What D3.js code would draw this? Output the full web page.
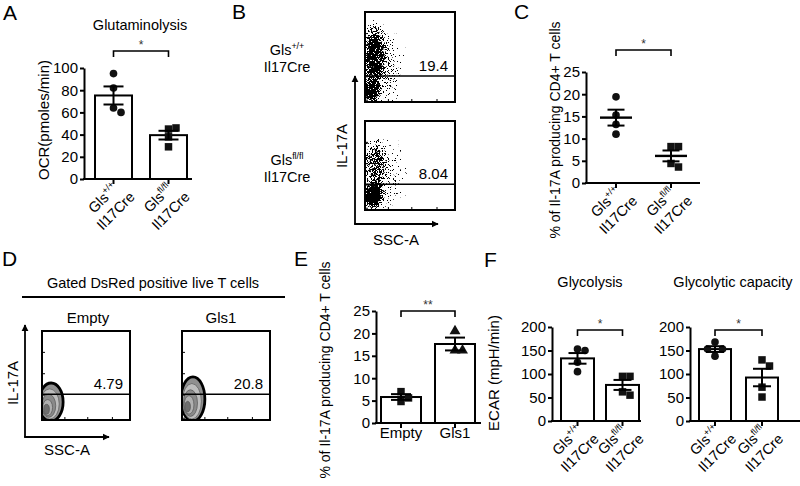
<!DOCTYPE html>
<html>
<head>
<meta charset="utf-8">
<script src="https://cdn.jsdelivr.net/npm/d3@7"></script>
<style>
  body { margin: 0; background: #fff; }
  svg { display: block; }
</style>
</head>
<body>
<script>
// ---- values ----
const genotypeSup = ["+/+", "fl/fl"];
const ocrPoints = [[95, 82, 64, 60], [45, 46, 38, 29]];          // A
const il17Points = [[19.4, 15.3, 13.2, 11.0], [8.2, 8.2, 4.4, 3.6]]; // C
const rescueCats = ["Empty", "Gls1"];
const rescuePoints = [[7.0, 5.6, 4.8], [20.5, 16.2, 16.2]];       // E
const glycolysisPoints = [[153, 150, 125, 105], [95, 95, 62, 55]];  // F left
const capacityPoints = [[168, 153, 153, 138], [130, 117, 72, 51]];  // F right
const ocrTicks = [0, 20, 40, 60, 80, 100];
const pctTicks = [0, 5, 10, 15, 20, 25];
const ecarTicks = [0, 50, 100, 150, 200];

// flow plots: gate level and printed percentages
const flowGate = 1.45;
const flowLabelsB = ["19.4", "8.04"];
const flowLabelsD = ["4.79", "20.8"];
// dot clouds, [ssc, log IL-17A, rx, ry, density]
const cloudWT = [[19, 0.6, 30, 0.75, 1], [26, 2.6, 36, 2.0, 0.8], [45, 2.0, 75, 2.6, 0.4]];
const cloudKO = [[22, 0.8, 34, 0.95, 1], [30, 2.6, 38, 1.8, 0.5], [50, 2.0, 75, 2.5, 0.3]];
// contour levels, [ssc, log IL-17A, rx, ry]
const contourEmpty = [[26, 1.01, 34, 1.07], [22, 0.9, 27, 0.85], [19, 0.8, 20, 0.65], [16, 0.7, 14, 0.45], [13, 0.6, 8, 0.28]];
const contourGls1 = [[31, 1.18, 34, 1.24], [28, 1.05, 27, 1.0], [24, 0.95, 20, 0.75], [20, 0.85, 14, 0.52], [16, 0.75, 8, 0.3]];
const flowTicksX = [0, 65, 130, 200];
const flowTicksY = [0.1, 1.4, 2.6, 3.8];

const FONT = "'Liberation Sans', Arial, Helvetica, sans-serif";

const svg = d3.select('body').append('svg')
  .attr('width', 800).attr('height', 486)
  .attr('font-family', FONT);
const defs = svg.append('defs');

// speckle filter used to turn smooth density into dots
const f = defs.append('filter').attr('id', 'speckle')
  .attr('x', 0).attr('y', 0).attr('width', 1).attr('height', 1)
  .attr('color-interpolation-filters', 'sRGB');
f.append('feTurbulence').attr('type', 'fractalNoise').attr('baseFrequency', 1.6)
  .attr('numOctaves', 1).attr('seed', 4).attr('result', 'noise');
f.append('feColorMatrix').attr('in', 'noise').attr('type', 'matrix')
  .attr('values', '0 0 0 0 0  0 0 0 0 0  0 0 0 0 0  2 0 0 0 -0.5').attr('result', 'thr');
f.append('feComposite').attr('in', 'SourceAlpha').attr('in2', 'thr').attr('operator', 'arithmetic')
  .attr('k1', 0).attr('k2', 1).attr('k3', -1).attr('k4', 0).attr('result', 'diff');
f.append('feComponentTransfer').attr('in', 'diff')
  .append('feFuncA').attr('type', 'linear').attr('slope', 20).attr('intercept', 0);

const grad = defs.append('radialGradient').attr('id', 'blob');
grad.append('stop').attr('offset', '0%').attr('stop-color', '#000').attr('stop-opacity', 1);
grad.append('stop').attr('offset', '45%').attr('stop-color', '#000').attr('stop-opacity', 0.85);
grad.append('stop').attr('offset', '100%').attr('stop-color', '#000').attr('stop-opacity', 0);

defs.append('marker').attr('id', 'arrow').attr('viewBox', '0 0 10 10')
  .attr('refX', 9).attr('refY', 5).attr('markerWidth', 4).attr('markerHeight', 4)
  .attr('orient', 'auto')
  .append('path').attr('d', 'M0,0 L10,5 L0,10 z').attr('fill', '#000');

function text(x, y, s, size, anchor) {
  return svg.append('text').attr('x', x).attr('y', y).attr('font-size', size)
    .attr('text-anchor', anchor || 'start').attr('fill', '#000').text(s);
}
function vtext(cx, cy, s, size) {
  return svg.append('text').attr('transform', `translate(${cx},${cy}) rotate(-90)`)
    .attr('text-anchor', 'middle').attr('dy', '0.35em').attr('font-size', size).text(s);
}
function gls(sel, sup, size) {
  sel.append('tspan').text('Gls');
  sel.append('tspan').attr('font-size', size * 0.62).attr('dy', -size * 0.42).text(sup);
}

// spread points that would overlap, like prism does
function swarm(py, size) {
  const placed = [];
  return py.map(p => {
    let off = 0;
    for (const c of [0, 1, -1, 2, -2, 3, -3]) {
      off = c * size;
      if (placed.every(q => Math.hypot(q.x - off, q.y - p) >= size)) break;
    }
    placed.push({ x: off, y: p });
    return off;
  });
}

const shapes = {
  circle: d3.symbol().type(d3.symbolCircle).size(46)(),
  square: d3.symbol().type(d3.symbolSquare).size(56)(),
  triangle: d3.symbol().type(d3.symbolTriangle).size(52)()
};

function columnChart(c) {
  const g = svg.append('g');
  const y = d3.scaleLinear().domain([0, c.max]).range([c.y0, c.yTop]);
  const step = (c.barR - c.barL) - c.bw;
  const x = d3.scaleBand().domain(d3.range(c.points.length))
    .range([c.barL, c.barR]).paddingInner(1 - c.bw / step).paddingOuter(0);
  const cx = i => x(i) + x.bandwidth() / 2;

  const ax = g.append('g').attr('transform', `translate(${c.x0},0)`)
    .call(d3.axisLeft(y).tickValues(c.ticks).tickSize(4).tickPadding(2).tickSizeOuter(0));
  ax.attr('font-size', 15).attr('font-family', FONT);
  ax.selectAll('path,line').attr('stroke', '#000').attr('stroke-width', 2);
  ax.selectAll('text').attr('fill', '#000');

  g.append('line').attr('x1', c.x0 - 1).attr('x2', c.x1).attr('y1', c.y0).attr('y2', c.y0)
    .attr('stroke', '#000').attr('stroke-width', 2);
  g.selectAll('.xt').data(c.points).enter().append('line')
    .attr('x1', (d, i) => cx(i)).attr('x2', (d, i) => cx(i))
    .attr('y1', c.y0).attr('y2', c.y0 + 5).attr('stroke', '#000').attr('stroke-width', 2);

  const stats = c.points.map(v => ({ m: d3.mean(v), s: d3.deviation(v) / Math.sqrt(v.length) }));

  if (c.bars) {
    g.selectAll('.bar').data(stats).enter().append('rect')
      .attr('x', (d, i) => x(i)).attr('width', x.bandwidth())
      .attr('y', d => y(d.m)).attr('height', d => c.y0 - y(d.m))
      .attr('fill', '#fff').attr('stroke', '#000').attr('stroke-width', 2);
  }

  c.points.forEach((vals, i) => {
    const py = vals.map(v => y(v));
    const off = swarm(py, 7.5);
    g.selectAll(null).data(vals).enter().append('path')
      .attr('d', shapes[c.shapes[i]])
      .attr('transform', (d, j) => `translate(${cx(i) + off[j]},${py[j]})`)
      .attr('fill', '#111');
  });

  stats.forEach((d, i) => {
    const e = g.append('g').attr('stroke', '#000').attr('stroke-width', 2);
    e.append('line').attr('x1', cx(i)).attr('x2', cx(i)).attr('y1', y(d.m + d.s)).attr('y2', y(d.m - d.s));
    [d.m + d.s, d.m - d.s].forEach(v => e.append('line')
      .attr('x1', cx(i) - c.cap).attr('x2', cx(i) + c.cap).attr('y1', y(v)).attr('y2', y(v)));
    if (!c.bars) {
      e.append('line').attr('x1', cx(i) - c.meanW).attr('x2', cx(i) + c.meanW)
        .attr('y1', y(d.m)).attr('y2', y(d.m)).attr('stroke-width', 2.4);
    }
  });

  // significance bracket
  g.append('path').attr('d', `M${cx(0)},${c.bracketY + 6}V${c.bracketY}H${cx(1)}V${c.bracketY + 6}`)
    .attr('fill', 'none').attr('stroke', '#000').attr('stroke-width', 1.6);
  g.append('text').attr('x', (cx(0) + cx(1)) / 2).attr('y', c.bracketY - 2)
    .attr('text-anchor', 'middle').attr('font-size', 12).attr('fill', '#333').text(c.star);

  if (c.rotated) {
    c.points.forEach((d, i) => {
      const lg = g.append('g').attr('transform', `translate(${cx(i)},${c.y0}) rotate(-45)`)
        .attr('font-size', 14.5).attr('text-anchor', 'middle');
      gls(lg.append('text').attr('x', -21).attr('y', 11), genotypeSup[i], 14.5);
      lg.append('text').attr('x', -21).attr('y', 29).text('Il17Cre');
    });
  } else {
    c.cats.forEach((s, i) => g.append('text').attr('x', cx(i)).attr('y', c.y0 + 15)
      .attr('text-anchor', 'middle').attr('font-size', 15).text(s));
  }
}

function flowPlot(c) {
  const x = d3.scaleLinear().domain([0, 250]).range([c.x0, c.x1]);
  const y = d3.scaleLinear().domain([0, 5]).range([c.y1, c.y0]);
  const id = 'clip' + c.id;
  defs.append('clipPath').attr('id', id).append('rect')
    .attr('x', c.x0).attr('y', c.y0).attr('width', c.x1 - c.x0).attr('height', c.y1 - c.y0);
  const outer = svg.append('g').attr('clip-path', `url(#${id})`);

  if (c.cloud) {
    const inner = outer.append('g').attr('filter', 'url(#speckle)');
    inner.selectAll('ellipse').data(c.cloud).enter().append('ellipse')
      .attr('cx', d => x(d[0])).attr('cy', d => y(d[1]))
      .attr('rx', d => x(d[2]) - x(0)).attr('ry', d => y(0) - y(d[3]))
      .attr('fill', 'url(#blob)').attr('fill-opacity', d => d[4]);
  }
  if (c.contour) {
    const fills = ['#909090', '#bdbdbd', '#8a8a8a', '#b0b0b0', '#6e6e6e'];
    outer.selectAll('ellipse').data(c.contour).enter().append('ellipse')
      .attr('cx', d => x(d[0])).attr('cy', d => y(d[1]))
      .attr('rx', d => x(d[2]) - x(0)).attr('ry', d => y(0) - y(d[3]))
      .attr('fill', (d, i) => fills[i])
      .attr('stroke', (d, i) => i === 0 ? '#000' : '#555')
      .attr('stroke-width', (d, i) => i === 0 ? 2.8 : 0.7);
  }

  const t = svg.append('g').attr('stroke', '#000').attr('stroke-width', 1);
  flowTicksY.forEach(v => t.append('line').attr('x1', c.x0).attr('x2', c.x0 + 3).attr('y1', y(v)).attr('y2', y(v)));
  flowTicksX.forEach(v => t.append('line').attr('x1', x(v)).attr('x2', x(v)).attr('y1', c.y1).attr('y2', c.y1 - 3));

  svg.append('line').attr('x1', c.x0).attr('x2', c.x1).attr('y1', y(flowGate)).attr('y2', y(flowGate))
    .attr('stroke', '#000').attr('stroke-width', 1.5);
  svg.append('rect').attr('x', c.x0).attr('y', c.y0).attr('width', c.x1 - c.x0).attr('height', c.y1 - c.y0)
    .attr('fill', 'none').attr('stroke', '#000').attr('stroke-width', 2);
  text(c.x1 - 7, y(flowGate) - 5, c.label, 15, 'end');
}

function arrowAxes(ox, oy, top, right) {
  svg.append('path').attr('d', `M${ox},${oy}V${top}`).attr('stroke', '#000').attr('stroke-width', 1.8)
    .attr('fill', 'none').attr('marker-end', 'url(#arrow)');
  svg.append('path').attr('d', `M${ox - 0.9},${oy}H${right}`).attr('stroke', '#000').attr('stroke-width', 1.8)
    .attr('fill', 'none').attr('marker-end', 'url(#arrow)');
}

// ---- panel letters ----
text(3, 20, 'A', 21);
text(232, 19, 'B', 21);
text(514, 19, 'C', 21);
text(2, 266, 'D', 21);
text(294, 266, 'E', 21);
text(484, 267, 'F', 21);

// ---- A ----
text(140, 30, 'Glutaminolysis', 14.5, 'middle');
vtext(44, 120, 'OCR(pmoles/min)', 15);
columnChart({
  points: ocrPoints, shapes: ['circle', 'square'], bars: true,
  max: 100, ticks: ocrTicks, x0: 84, x1: 192, y0: 179, yTop: 68,
  barL: 95, barR: 187, bw: 37, cap: 10, bracketY: 51, star: '*', rotated: true
});

// ---- B ----
[[55, 72], [165, 182]].forEach((yy, i) => {
  gls(text(287, yy[0], '', 14.5, 'middle'), genotypeSup[i], 14.5);
  text(287, yy[1], 'Il17Cre', 14.5, 'middle');
});
flowPlot({ id: 'b1', x0: 365, x1: 455, y0: 12, y1: 102, cloud: cloudWT, label: flowLabelsB[0] });
flowPlot({ id: 'b2', x0: 365, x1: 455, y0: 121, y1: 210, cloud: cloudKO, label: flowLabelsB[1] });
arrowAxes(355, 224, 76, 438);
vtext(342, 146, 'IL-17A', 15);
text(396, 245, 'SSC-A', 15, 'middle');

// ---- C ----
vtext(555, 130, '% of Il-17A producing CD4+ T cells', 14);
columnChart({
  points: il17Points, shapes: ['circle', 'square'], bars: false,
  max: 25, ticks: pctTicks, x0: 586, x1: 700, y0: 183, yTop: 72,
  barL: 601, barR: 686, bw: 30, cap: 8.5, meanW: 16, bracketY: 50, star: '*', rotated: true
});

// ---- D ----
text(153, 288, 'Gated DsRed positive live T cells', 14.5, 'middle');
svg.append('line').attr('x1', 22).attr('x2', 285).attr('y1', 297).attr('y2', 297)
  .attr('stroke', '#000').attr('stroke-width', 2);
text(88, 323, 'Empty', 15, 'middle');
text(221, 323, 'Gls1', 15, 'middle');
flowPlot({ id: 'd1', x0: 42, x1: 130, y0: 331, y1: 420, contour: contourEmpty, label: flowLabelsD[0] });
flowPlot({ id: 'd2', x0: 182, x1: 270, y0: 331, y1: 420, contour: contourGls1, label: flowLabelsD[1] });
arrowAxes(25, 437, 325, 109);
vtext(13, 383, 'IL-17A', 15);
text(67, 455, 'SSC-A', 15, 'middle');

// ---- E ----
vtext(325, 370, '% of Il-17A producing CD4+ T cells', 14);
columnChart({
  points: rescuePoints, cats: rescueCats, shapes: ['square', 'triangle'], bars: true,
  max: 25, ticks: pctTicks, x0: 376, x1: 481, y0: 423, yTop: 311,
  barL: 381, barR: 475, bw: 40, cap: 10, bracketY: 311, star: '**', rotated: false
});

// ---- F ----
vtext(494, 373, 'ECAR (mpH/min)', 15);
text(590, 287, 'Glycolysis', 14.5, 'middle');
text(733, 287, 'Glycolytic capacity', 14.5, 'middle');
columnChart({
  points: glycolysisPoints, shapes: ['circle', 'square'], bars: true,
  max: 200, ticks: ecarTicks, x0: 552, x1: 641, y0: 421, yTop: 327,
  barL: 561, barR: 639, bw: 33, cap: 9, bracketY: 330, star: '*', rotated: true
});
columnChart({
  points: capacityPoints, shapes: ['circle', 'square'], bars: true,
  max: 200, ticks: ecarTicks, x0: 690, x1: 800, y0: 421, yTop: 327,
  barL: 699, barR: 778, bw: 32, cap: 9, bracketY: 330, star: '*', rotated: true
});
</script>
</body>
</html>
